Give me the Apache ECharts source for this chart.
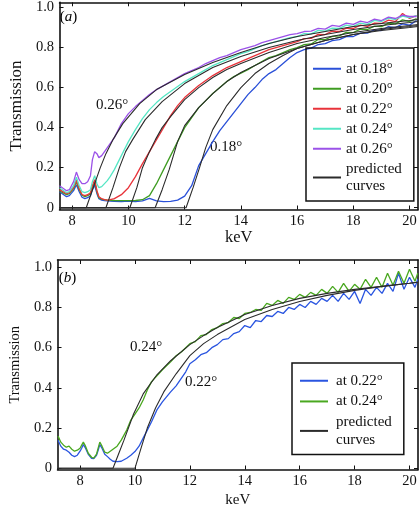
<!DOCTYPE html>
<html><head><meta charset="utf-8">
<script src="https://cdn.jsdelivr.net/npm/echarts@6/dist/echarts.min.js"></script>
<style>html,body{margin:0;padding:0;background:#fff}#c{width:420px;height:518px}</style>
</head><body><div id="c"></div>
<script>
// ---------- tick values ----------
const xTicks = [8, 10, 12, 14, 16, 18, 20];
const yTicks = [0, 0.2, 0.4, 0.6, 0.8, 1.0];

// ---------- panel (a): measured ----------
const energyA = [7.55,7.6,7.7,7.8,7.9,8.05,8.15,8.25,8.35,8.45,8.55,8.65,8.72,8.8,8.88,8.95,9.05,9.15,9.25,9.35,9.5,
  9.75,10,10.25,10.5,10.75,11,11.25,11.5,11.75,12,12.25,12.5,12.75,13,13.25,13.5,13.75,14,14.25,14.5,14.75,15,15.25,15.5,15.75,
  16,16.25,16.5,16.75,17,17.25,17.5,17.75,18,18.25,18.5,18.75,19,19.25,19.5,19.75,20,20.25];
const measA018 = [0.08,0.075,0.065,0.055,0.06,0.085,0.115,0.08,0.052,0.045,0.05,0.06,0.09,0.112,0.07,0.045,0.038,0.035,0.034,0.033,0.032,
  0.031,0.033,0.031,0.034,0.046,0.034,0.03,0.032,0.038,0.058,0.11,0.21,0.27,0.33,0.385,0.43,0.475,0.52,0.565,0.6,0.64,0.67,0.69,0.72,0.75,
  0.775,0.79,0.797,0.815,0.82,0.835,0.84,0.855,0.855,0.872,0.872,0.888,0.885,0.905,0.9,0.918,0.912,0.935];
const measA020 = [0.085,0.08,0.072,0.065,0.07,0.095,0.13,0.09,0.062,0.055,0.06,0.07,0.1,0.132,0.08,0.05,0.042,0.04,0.038,0.037,0.036,
  0.035,0.035,0.036,0.04,0.06,0.12,0.19,0.26,0.33,0.40,0.45,0.50,0.535,0.57,0.60,0.63,0.655,0.672,0.69,0.71,0.73,0.75,0.76,0.775,0.79,
  0.80,0.815,0.818,0.84,0.84,0.856,0.858,0.876,0.875,0.892,0.89,0.907,0.904,0.922,0.918,0.938,0.93,0.945];
const measA022 = [0.09,0.085,0.078,0.07,0.075,0.1,0.138,0.095,0.066,0.06,0.065,0.075,0.11,0.14,0.085,0.055,0.045,0.04,0.038,0.04,0.045,
  0.065,0.10,0.155,0.22,0.28,0.34,0.40,0.46,0.51,0.55,0.58,0.61,0.635,0.66,0.68,0.70,0.715,0.73,0.745,0.76,0.775,0.79,0.80,0.81,0.82,
  0.83,0.845,0.846,0.866,0.865,0.882,0.88,0.897,0.895,0.912,0.906,0.922,0.92,0.937,0.93,0.97,0.945,0.96];
const measA024 = [0.10,0.095,0.085,0.075,0.08,0.11,0.152,0.11,0.08,0.075,0.08,0.09,0.13,0.16,0.12,0.10,0.105,0.12,0.135,0.155,0.19,
  0.26,0.33,0.39,0.445,0.49,0.525,0.555,0.58,0.605,0.63,0.65,0.67,0.69,0.71,0.725,0.74,0.755,0.77,0.78,0.795,0.81,0.82,0.83,0.84,0.85,
  0.855,0.87,0.868,0.886,0.882,0.897,0.896,0.912,0.906,0.922,0.916,0.936,0.93,0.947,0.94,0.957,0.95,0.96];
const measA026 = [0.11,0.105,0.095,0.085,0.09,0.13,0.178,0.14,0.12,0.12,0.13,0.16,0.24,0.28,0.27,0.25,0.26,0.28,0.30,0.32,0.35,
  0.42,0.47,0.505,0.535,0.565,0.59,0.61,0.63,0.65,0.67,0.685,0.70,0.72,0.735,0.75,0.76,0.775,0.79,0.80,0.81,0.825,0.835,0.845,0.855,0.865,
  0.87,0.88,0.882,0.896,0.892,0.911,0.906,0.922,0.916,0.932,0.925,0.942,0.935,0.952,0.945,0.962,0.955,0.955];

// ---------- panel (a): predicted ----------
const predA018X = [7.55,12.05,12.3,12.53,12.75,13,13.5,14,14.5,15,15.5,16,17,18,19,20,20.3];
const predA018Y = [0,0,0.1,0.2,0.3,0.39,0.51,0.6,0.67,0.72,0.76,0.795,0.835,0.865,0.885,0.9,0.905];
const predA020X = [7.55,10.95,11.2,11.45,11.75,12,12.5,13,13.5,14,15,16,17,18,19,20,20.3];
const predA020Y = [0,0,0.09,0.19,0.33,0.41,0.5,0.57,0.63,0.675,0.745,0.795,0.835,0.865,0.89,0.905,0.91];
const predA022X = [7.55,10.05,10.3,10.5,10.75,10.96,11.2,11.5,12,12.5,13,13.5,14,15,16,17,18,19,20,20.3];
const predA022Y = [0,0,0.1,0.2,0.28,0.34,0.4,0.455,0.54,0.6,0.65,0.69,0.72,0.775,0.82,0.85,0.875,0.895,0.91,0.915];
const predA024X = [7.55,9.2,9.45,9.68,9.9,10.15,10.6,11.2,12,12.5,13,14,15,16,17,18,19,20,20.3];
const predA024Y = [0,0,0.1,0.2,0.28,0.34,0.44,0.53,0.62,0.66,0.7,0.755,0.8,0.835,0.865,0.89,0.91,0.925,0.93];
const predA026X = [7.55,8.5,8.75,9,9.2,9.45,9.8,10.4,11,12,13,14,15,16,17,18,19,20,20.3];
const predA026Y = [0,0,0.1,0.2,0.27,0.34,0.42,0.52,0.59,0.665,0.725,0.775,0.82,0.855,0.88,0.905,0.92,0.935,0.94];

// ---------- panel (b): measured ----------
const energyB = [7.2,7.3,7.4,7.5,7.6,7.7,7.8,7.9,8.0,8.06,8.12,8.2,8.3,8.42,8.5,8.6,8.66,8.72,8.8,8.9,
  9.0,9.1,9.2,9.35,9.5,9.7,9.85,10,10.15,10.3,10.45,10.6,10.8,11,11.15,11.3,11.5,11.7,11.85,12,
  12.2,12.4,12.6,12.8,13,13.2,13.4,13.6,13.8,14,14.2,14.4,14.6,14.8,15,15.2,15.4,15.6,15.8,16,
  16.2,16.4,16.6,16.8,17,17.2,17.4,17.6,17.8,18,18.2,18.4,18.6,18.8,19,19.2,19.4,19.6,19.8,20,20.2,20.3];
const measB022 = [0.14,0.11,0.095,0.09,0.08,0.065,0.058,0.065,0.085,0.10,0.118,0.10,0.07,0.05,0.048,0.065,0.09,0.118,0.10,0.07,
  0.058,0.045,0.035,0.033,0.035,0.05,0.065,0.083,0.11,0.15,0.19,0.23,0.29,0.33,0.355,0.38,0.41,0.45,0.48,0.52,
  0.54,0.565,0.575,0.60,0.615,0.64,0.645,0.67,0.68,0.71,0.70,0.735,0.73,0.76,0.755,0.78,0.77,0.80,0.79,0.815,
  0.80,0.83,0.815,0.845,0.83,0.86,0.83,0.87,0.84,0.88,0.82,0.89,0.86,0.9,0.87,0.92,0.88,0.97,0.89,0.95,0.9,0.94];
const measB024 = [0.16,0.13,0.115,0.105,0.11,0.095,0.085,0.09,0.10,0.115,0.13,0.11,0.075,0.055,0.05,0.07,0.10,0.13,0.11,0.08,
  0.075,0.085,0.095,0.11,0.14,0.19,0.24,0.27,0.30,0.34,0.39,0.43,0.46,0.49,0.51,0.53,0.56,0.58,0.60,0.62,
  0.63,0.66,0.665,0.69,0.70,0.72,0.725,0.75,0.745,0.77,0.775,0.79,0.785,0.82,0.81,0.835,0.82,0.85,0.84,0.865,
  0.85,0.875,0.86,0.89,0.87,0.905,0.875,0.92,0.88,0.915,0.89,0.94,0.9,0.95,0.9,0.97,0.91,0.98,0.92,0.99,0.93,0.97];

// ---------- panel (b): predicted ----------
const predB022X = [7.2,10.0,10.2,10.45,10.75,11.05,11.5,12,12.5,13,14,15,16,17,18,19,20,20.3];
const predB022Y = [0,0,0.09,0.2,0.3,0.38,0.47,0.56,0.62,0.665,0.74,0.79,0.83,0.86,0.885,0.905,0.92,0.925];
const predB024X = [7.2,9.2,9.4,9.6,9.95,10.3,10.8,11.3,12,12.5,13,14,15,16,17,18,19,20,20.3];
const predB024Y = [0,0,0.07,0.14,0.27,0.37,0.465,0.535,0.615,0.66,0.70,0.765,0.81,0.845,0.87,0.89,0.905,0.92,0.925];

// ---------- build ----------
const FONT = '"Liberation Serif", "Times New Roman", serif';
const INK = '#111';
const zip = (xs, ys) => xs.map((x, i) => [x, ys[i]]);
const yFmt = v => (Math.abs(v) < 1e-9 ? '0' : v.toFixed(1));

function xAxes(grid, min, max, nameGap, nameSize) {
  const line = { show: true, onZero: false, lineStyle: { color: INK, width: 1.6 } };
  return [
    { gridIndex: grid, type: 'value', position: 'bottom', min, max,
      axisLine: line,
      axisTick: { show: true, inside: true, length: 4, customValues: xTicks, lineStyle: { color: INK, width: 1 } },
      axisLabel: { show: true, customValues: xTicks, color: INK, fontFamily: FONT, fontSize: 14.5, margin: 4 },
      splitLine: { show: false },
      name: 'keV', nameLocation: 'middle', nameGap,
      nameTextStyle: { color: INK, fontFamily: FONT, fontSize: nameSize } },
    { gridIndex: grid, type: 'value', position: 'top', min, max,
      axisLine: line,
      axisTick: { show: true, inside: true, length: 4, customValues: xTicks, lineStyle: { color: INK, width: 1 } },
      axisLabel: { show: false, customValues: xTicks },
      splitLine: { show: false } }
  ];
}
function yAxes(grid, min, max, nameGap, nameSize) {
  const line = { show: true, onZero: false, lineStyle: { color: INK, width: 1.6 } };
  return [
    { gridIndex: grid, type: 'value', position: 'left', min, max,
      axisLine: line,
      axisTick: { show: true, inside: true, length: 4, customValues: yTicks, lineStyle: { color: INK, width: 1 } },
      axisLabel: { show: true, customValues: yTicks, formatter: yFmt, color: INK, fontFamily: FONT, fontSize: 14.5, margin: 5.5 },
      splitLine: { show: false },
      name: 'Transmission', nameLocation: 'middle', nameGap, nameRotate: 90,
      nameTextStyle: { color: INK, fontFamily: FONT, fontSize: nameSize } },
    { gridIndex: grid, type: 'value', position: 'right', min, max,
      axisLine: line,
      axisTick: { show: true, inside: true, length: 4, customValues: yTicks, lineStyle: { color: INK, width: 1 } },
      axisLabel: { show: false, customValues: yTicks },
      splitLine: { show: false } }
  ];
}

function meas(name, xs, ys, color, xi, yi) {
  return { name, type: 'line', xAxisIndex: xi, yAxisIndex: yi, data: zip(xs, ys), color,
    showSymbol: false, symbol: 'none', lineStyle: { color, width: 1.3 }, z: 2 };
}
function pred(name, xs, ys, xi, yi) {
  return { name, type: 'line', xAxisIndex: xi, yAxisIndex: yi, data: zip(xs, ys), color: '#2b2b2b',
    showSymbol: false, symbol: 'none', lineStyle: { color: '#2b2b2b', width: 1.1 }, z: 3 };
}

const cA = { b: '#2a50d8', g: '#3f9c22', r: '#e8333a', c: '#55e6c4', p: '#9b52e8' };
const cB = { b: '#2a55e0', g: '#4aa820' };

const series = [
  meas('a:at 0.18°', energyA, measA018, cA.b, 0, 0),
  meas('a:at 0.20°', energyA, measA020, cA.g, 0, 0),
  meas('a:at 0.22°', energyA, measA022, cA.r, 0, 0),
  meas('a:at 0.24°', energyA, measA024, cA.c, 0, 0),
  meas('a:at 0.26°', energyA, measA026, cA.p, 0, 0),
  pred('a:predicted curves', predA018X, predA018Y, 0, 0),
  pred('a:predicted curves', predA020X, predA020Y, 0, 0),
  pred('a:predicted curves', predA022X, predA022Y, 0, 0),
  pred('a:predicted curves', predA024X, predA024Y, 0, 0),
  pred('a:predicted curves', predA026X, predA026Y, 0, 0),
  meas('b:at 0.22°', energyB, measB022, cB.b, 2, 2),
  meas('b:at 0.24°', energyB, measB024, cB.g, 2, 2),
  pred('b:predicted curves', predB022X, predB022Y, 2, 2),
  pred('b:predicted curves', predB024X, predB024Y, 2, 2)
];

const legendFmt = n => n.replace(/^[ab]:/, '').replace(' curves', '\ncurves');
const legendText = { color: INK, fontFamily: FONT, fontSize: 15, lineHeight: 17.5 };

const txt = (x, y, text, size) => ({ type: 'text', x, y, silent: true,
  style: { text, fill: INK, font: size + 'px ' + FONT, align: 'center', verticalAlign: 'middle' } });
const panelTag = (x, y, letter) => ({ type: 'text', x, y, silent: true,
  style: { text: '{n|(}{i|' + letter + '}{n|)}', align: 'center', verticalAlign: 'middle',
    rich: { n: { fontFamily: FONT, fontSize: 15, color: INK }, i: { fontFamily: FONT, fontSize: 15, fontStyle: 'italic', color: INK } } } });

const option = {
  animation: false,
  backgroundColor: '#fff',
  grid: [
    { left: 52, top: 2, width: 366, height: 207.5 },
    { left: 51, top: 260, width: 367, height: 209.5 }
  ],
  xAxis: [...xAxes(0, 7.55, 20.3, 16, 16.5), ...xAxes(1, 7.18, 20.31, 23, 15)],
  yAxis: [...yAxes(0, -0.009, 1.026, 28, 17), ...yAxes(1, -0.006, 1.036, 29, 14.5)],
  legend: [
    { orient: 'vertical', left: 306, top: 48, padding: [12, 12, 6, 7], itemGap: 2.5,
      itemWidth: 28, itemHeight: 2, icon: 'rect', borderColor: INK, borderWidth: 1.5,
      data: ['a:at 0.18°', 'a:at 0.20°', 'a:at 0.22°', 'a:at 0.24°', 'a:at 0.26°', 'a:predicted curves'],
      formatter: legendFmt, textStyle: legendText, selectedMode: false },
    { orient: 'vertical', left: 292, top: 363, padding: [9, 12, 6, 8], itemGap: 3.2,
      itemWidth: 28, itemHeight: 2, icon: 'rect', borderColor: INK, borderWidth: 1.5,
      data: ['b:at 0.22°', 'b:at 0.24°', 'b:predicted curves'],
      formatter: legendFmt, textStyle: Object.assign({}, legendText, { padding: [0, 0, 0, 3] }), selectedMode: false }
  ],
  graphic: [
    panelTag(68.5, 17, 'a'),
    panelTag(67.5, 278, 'b'),
    txt(112, 105, '0.26°', 15),
    txt(226, 147, '0.18°', 15),
    txt(146, 347, '0.24°', 15),
    txt(201, 382, '0.22°', 15)
  ],
  series
};

const chart = echarts.init(document.getElementById('c'), null, { renderer: 'canvas' });
chart.setOption(option);
</script>
</body></html>
